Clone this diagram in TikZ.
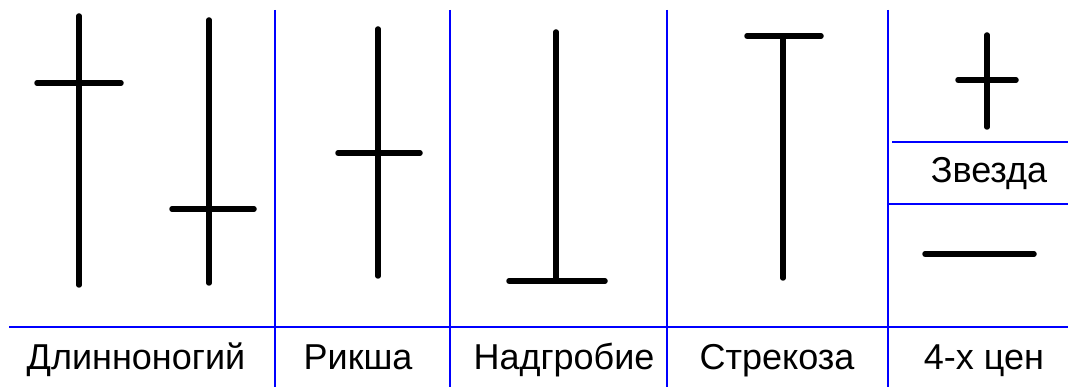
\documentclass[tikz,border=0pt]{standalone}
\usepackage{fontspec}
\setmainfont{Liberation Sans}
\tikzset{
  wick/.style={line width=5.5pt, line cap=round, black},
  grid/.style={line width=2pt, draw=blue},
  caption/.style={font=\fontsize{36}{42}\selectfont, anchor=base}
}
\begin{document}
\begin{tikzpicture}[x=1pt,y=-1pt]
\useasboundingbox (0,0) rectangle (1068,387);
% blue grid
\draw[grid] (9,327) -- (1068,327);
\draw[grid] (275,10) -- (275,387);
\draw[grid] (450,10) -- (450,387);
\draw[grid] (667,10) -- (667,387);
\draw[grid] (888,10) -- (888,387);
\draw[grid] (892,142) -- (1068,142);
\draw[grid] (888,204) -- (1068,204);
% long-legged
\draw[wick] (79,16) -- (79,285);
\draw[wick] (37,83) -- (121,83);
\draw[wick] (209,20) -- (209,283);
\draw[wick] (172,209) -- (254,209);
% rickshaw
\draw[wick] (378,29) -- (378,276);
\draw[wick] (338,153) -- (420,153);
% gravestone
\draw[wick] (556,32) -- (556,280);
\draw[wick] (509,281) -- (605,281);
% dragonfly
\draw[wick] (783,37) -- (783,278);
\draw[wick] (747,36) -- (821,36);
% star and flat
\draw[wick] (987,35) -- (987,127);
\draw[wick] (958,80) -- (1016,80);
\draw[wick] (925,254) -- (1034,254);
% labels
\node[caption] (dlin) at (136,369) {Длинноногий};
\node[caption] (riksha) at (358,369) {Рикша};
\node[caption] (nadgr) at (564,369) {Надгробие};
\node[caption] (strek) at (777,369) {Стрекоза};
\node[caption] (zvezda) at (989,183) {Звезда};
\node[caption] (chetyre) at (984,369) {4-х цен};
\end{tikzpicture}
\end{document}
